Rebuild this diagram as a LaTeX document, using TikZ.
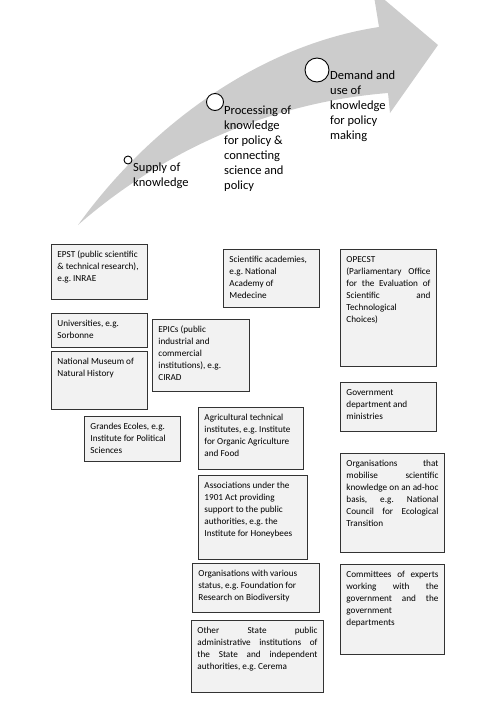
\documentclass[tikz,border=0pt]{standalone}
\usepackage{fontspec}
\setmainfont{Carlito}
\usepackage{tikz}
\usetikzlibrary{positioning}
\definecolor{arrowgrey}{RGB}{204,204,204}
\frenchspacing
\hyphenpenalty=10000
\exhyphenpenalty=10000

\begin{document}
\begin{tikzpicture}[x=1pt,y=-1pt,
			stage node/.style={circle,draw=black,fill=white,line width=0.9pt,inner sep=0pt},
			stage text/.style={anchor=base west,align=flush left,inner sep=0pt,text width=90pt,
				font=\fontsize{12.5}{15}\selectfont},
			info node/.style={draw=black!80,fill=black!5,line width=0.9pt,anchor=north west,
				inner xsep=6pt,inner ysep=4.5pt,text height=8.5pt,
				font=\fontsize{9.2}{12}\selectfont},
			left box/.style={info node,align=flush left},
			just box/.style={info node,align=justify}]
			\useasboundingbox (0,0) rectangle (500,707);
			
			% curved arrow
			\fill[arrowgrey] (78,225) .. controls (150,125) and (260,45) .. (379,27)
			-- (373,-10) -- (438,45) -- (390,113) -- (388,93)
			.. controls (240,105) and (135,175) .. (78,225) -- cycle;
			
			\node[stage node,minimum size=8pt] (S1) at (128,160) {};
			\node[stage node,minimum size=17pt] (S2) at (215,102) {};
			\node[stage node,minimum size=24pt] (S3) at (317,70) {};
			\node[stage text] (T1) at (133,171) {Supply of\\knowledge};
			\node[stage text] (T2) at (224,114) {Processing of\\knowledge\\for policy \&\\connecting\\science and\\policy};
			\node[stage text] (T3) at (330,79) {Demand and\\use of\\knowledge\\for policy\\making};
			
			% supply
			\node[left box,text width=84pt,text depth=37.5pt] (A) at (51,244)
			{EPST (public scientific\\\& technical research),\\e.g. INRAE};
			\node[left box,text width=84pt,text depth=16.5pt] (B) at (51,313)
			{Universities, e.g.\\Sorbonne};
			\node[left box,text width=84pt,text depth=40.5pt,below=3pt of B.south west,anchor=north west] (C)
			{National Museum of\\Natural History};
			\node[left box,text width=84pt,text depth=27.5pt] (D) at (84,416)
			{Grandes Ecoles, e.g.\\Institute for Political\\Sciences};
			\node[left box,text width=85pt,text depth=54.5pt] (E) at (152,319)
			{EPICs (public\\industrial and\\commercial\\institutions), e.g.\\CIRAD};
			
			% processing
			\node[left box,text width=84pt,text depth=40.5pt] (F) at (223,249)
			{Scientific academies,\\e.g. National\\Academy of\\Medecine};
			\node[left box,text width=93pt,text depth=44.5pt] (G) at (198,407)
			{Agricultural technical\\institutes, e.g. Institute\\for Organic Agriculture\\and Food};
			\node[left box,text width=97pt,text depth=66.5pt,below=5pt of G.south west,anchor=north west] (H)
			{Associations under the\\1901 Act providing\\support to the public\\authorities, e.g. the\\Institute for Honeybees};
			\node[left box,text width=115pt,text depth=31.5pt] (I) at (192,563)
			{Organisations with various\\status, e.g. Foundation for\\Research on Biodiversity};
			\node[just box,text width=120pt,text depth=54.5pt] (J) at (191,620)
			{Other State public\linebreak administrative institutions of\linebreak the State and independent\linebreak authorities, e.g. Cerema};
			
			% demand
			\node[just box,text width=84pt,text depth=99.5pt] (K) at (340,249)
			{OPECST\linebreak (Parliamentary Office\linebreak for the Evaluation of\linebreak Scientific and\linebreak Technological\linebreak Choices)};
			\node[left box,text width=84pt,text depth=31.5pt,below=15pt of K.south west,anchor=north west] (L)
			{Government\\department and\\ministries};
			\node[just box,text width=92pt,text depth=81.5pt] (M) at (340,453)
			{Organisations that\linebreak mobilise scientific\linebreak knowledge on an ad-hoc\linebreak basis, e.g. National\linebreak Council for Ecological\linebreak Transition};
			\node[just box,text width=92pt,text depth=72.5pt,below=11pt of M.south west,anchor=north west] (N)
			{Committees of experts\linebreak working with the\linebreak government and the\linebreak government\linebreak departments};
		\end{tikzpicture}
\end{document}
